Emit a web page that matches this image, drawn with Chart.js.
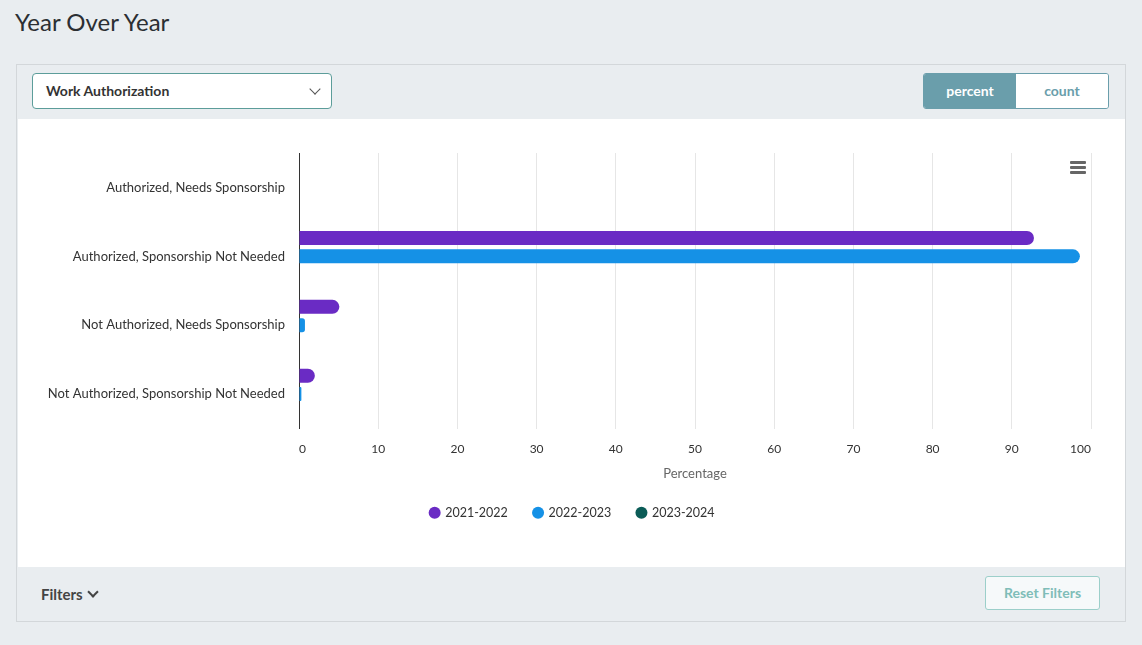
<!DOCTYPE html>
<html>
<head>
<meta charset="utf-8">
<script src="https://cdn.jsdelivr.net/npm/chart.js@4.4.1/dist/chart.umd.min.js"></script>
<style>
  body { margin: 0; background: #e9edf0; font-family: Lato, "Open Sans", sans-serif; color: #333; width: 1142px; height: 645px; position: relative; overflow: hidden; }
  .page-title { position: absolute; left: 15px; top: 7px; font-size: 24px; color: #2b2f33; }
  .card { position: absolute; left: 16px; top: 64px; width: 1108px; height: 556px; border: 1px solid #d3d7da; background: #e9edf0; }
  .select { position: absolute; left: 15px; top: 8px; width: 300px; height: 36px; box-sizing: border-box; background: #fff; border: 1px solid #5c9d9a; border-radius: 4px; font-size: 14px; font-weight: bold; line-height: 34px; padding-left: 13px; color: #333; }
  .select .chev { position: absolute; right: 12px; top: 11px; width: 7px; height: 7px; border-right: 1px solid #555; border-bottom: 1px solid #555; transform: rotate(45deg); }
  .toggle { position: absolute; left: 906px; top: 8px; height: 34px; display: flex; border: 1px solid #6a9eab; border-radius: 3px; overflow: hidden; }
  .toggle div { width: 92px; text-align: center; line-height: 34px; font-size: 14px; font-weight: bold; }
  .toggle .on { background: #6a9eab; color: #fff; }
  .toggle .off { background: #fff; color: #6a9eab; }
  .plot { position: absolute; left: 1px; top: 54px; width: 1107px; height: 448px; background: #fff; }
  .menu { position: absolute; left: 1052px; top: 42px; width: 16px; }
  .menu span { display: block; height: 3px; background: #666; margin-bottom: 2px; border-radius: 1px; }
  .filters { position: absolute; left: 24px; top: 520px; font-size: 15px; font-weight: bold; color: #444; }
  .filters .chev { display: inline-block; width: 6px; height: 6px; border-right: 2px solid #444; border-bottom: 2px solid #444; transform: rotate(45deg); margin-left: 6px; position: relative; top: -4px; }
  .reset { position: absolute; left: 968px; top: 511px; width: 113px; height: 32px; border: 1px solid #9ccfca; border-radius: 3px; background: #f6f9fa; color: #7fbdb8; font-size: 14px; font-weight: bold; text-align: center; line-height: 32px; }
</style>
</head>
<body>
<div class="page-title">Year Over Year</div>
<div class="card">
  <div class="select">Work Authorization<div class="chev"></div></div>
  <div class="toggle"><div class="on">percent</div><div class="off">count</div></div>
  <div class="plot">
    <canvas id="yoy-chart"></canvas>
    <div class="menu"><span></span><span></span><span></span></div>
  </div>
  <div class="filters">Filters<span class="chev"></span></div>
  <div class="reset">Reset Filters</div>
</div>
<script>
// Work authorization, share of students by year
const categories = [
  'Authorized, Needs Sponsorship',
  'Authorized, Sponsorship Not Needed',
  'Not Authorized, Needs Sponsorship',
  'Not Authorized, Sponsorship Not Needed'
];
const years = ['2021-2022', '2022-2023', '2023-2024'];
const values2122 = [0, 92.8, 5.1, 2.0];
const values2223 = [0, 98.6, 0.75, 0.3];
const values2324 = [0, 0, 0, 0];
const xTicks = [0, 10, 20, 30, 40, 50, 60, 70, 80, 90, 100];

const seriesColors = ['#6a2bc4', '#1591e6', '#0b5c57'];
const seriesValues = [values2122, values2223, values2324];

const FONT = 'Lato, "Open Sans", sans-serif';

// nudge the legend right so it sits centred under the whole card
const legendShift = {
  id: 'legendShift',
  afterLayout(chart) {
    if (chart.legend) {
      chart.legend.left += 18;
      chart.legend.right += 18;
    }
  }
};

const ctx = document.getElementById('yoy-chart').getContext('2d');
new Chart(ctx, {
  type: 'bar',
  data: {
    labels: categories,
    datasets: years.map((year, i) => ({
      label: year,
      data: seriesValues[i],
      backgroundColor: seriesColors[i],
      borderRadius: 7,
      borderSkipped: 'start',
      barPercentage: 0.76,
      categoryPercentage: 0.8
    }))
  },
  plugins: [legendShift],
  options: {
    indexAxis: 'y',
    responsive: true,
    maintainAspectRatio: false,
    animation: false,
    layout: { padding: { top: 34, right: 34, bottom: 38, left: 0 } },
    plugins: {
      tooltip: { enabled: false },
      legend: {
        position: 'bottom',
        labels: {
          usePointStyle: true,
          pointStyle: 'circle',
          boxWidth: 8.5,
          boxHeight: 8.5,
          padding: 26,
          color: '#333',
          font: { family: FONT, size: 12.5 }
        }
      }
    },
    scales: {
      x: {
        min: 0,
        max: 100,
        afterBuildTicks: (scale) => { scale.ticks = xTicks.map(v => ({ value: v })); },
        grid: { color: '#e6e6e6', drawTicks: false },
        border: { display: false },
        ticks: { color: '#333', padding: 13, align: 'inner', font: { family: FONT, size: 12 } },
        title: { display: true, text: 'Percentage', color: '#666', padding: { top: 0, bottom: -1 }, font: { family: FONT, size: 13 } },
        afterFit: (scale) => { scale.height = 52; }
      },
      y: {
        grid: { display: false, drawTicks: false },
        border: { display: true, color: '#333', width: 1 },
        ticks: { color: '#333', padding: 14, font: { family: FONT, size: 13 } },
        afterFit: (scale) => { scale.width = 281; }
      }
    }
  }
});
</script>
</body>
</html>
